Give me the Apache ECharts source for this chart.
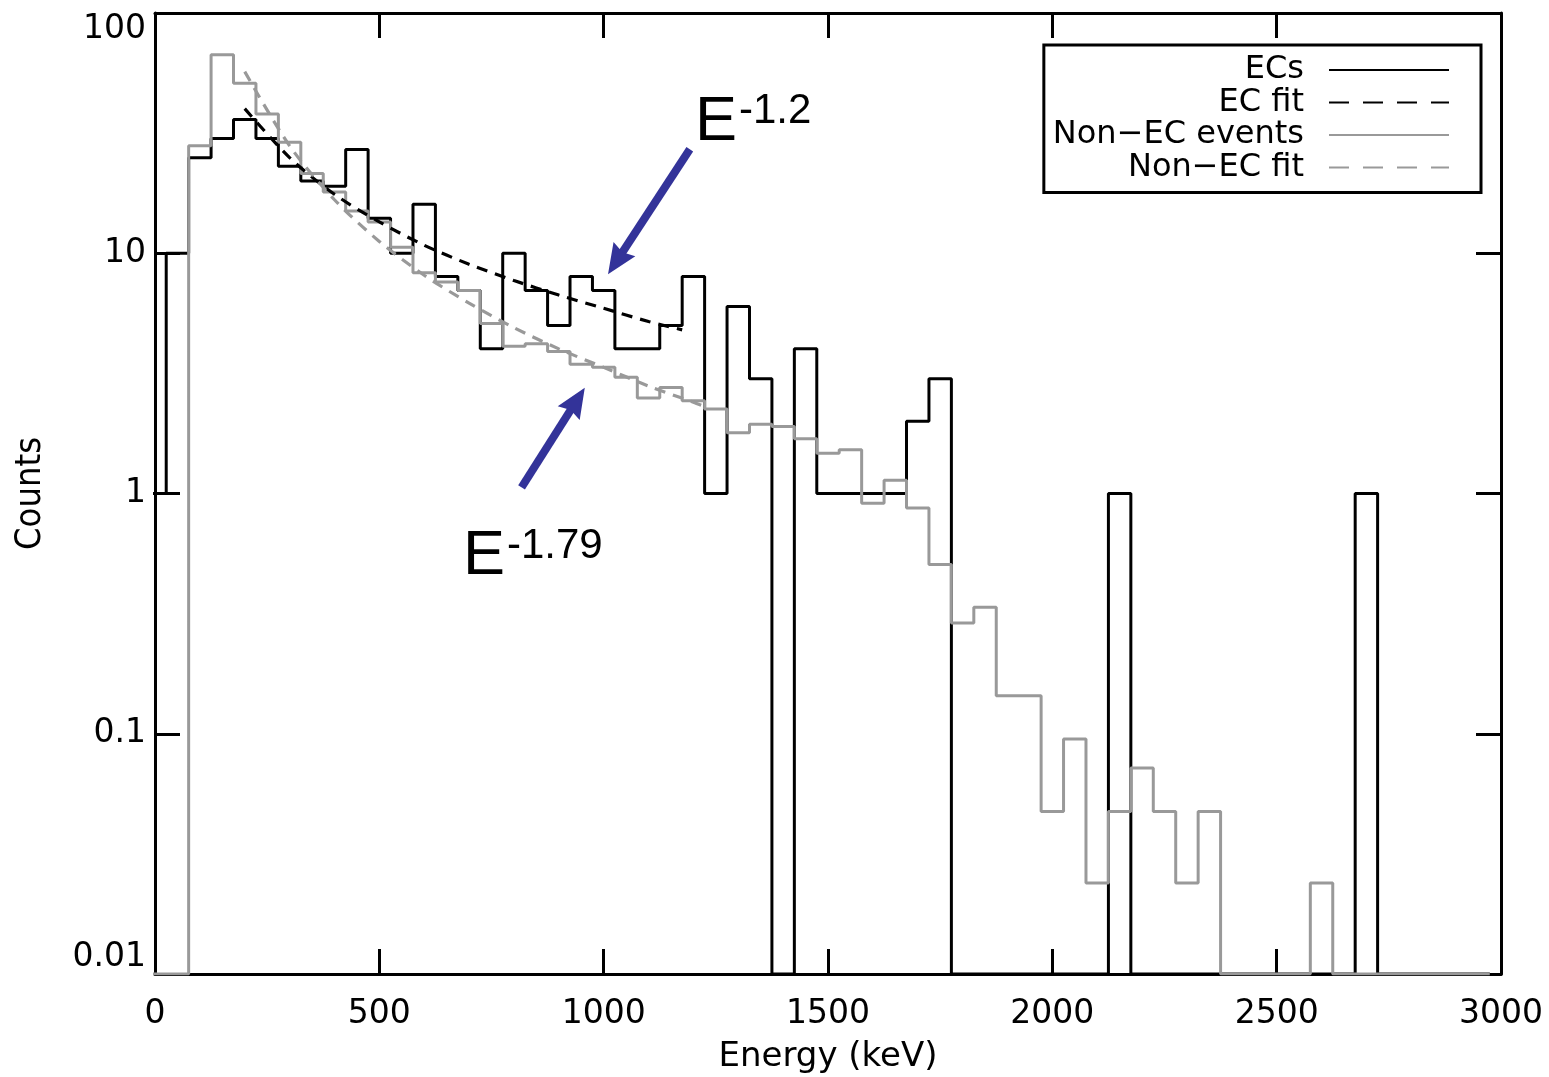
<!DOCTYPE html>
<html><head><meta charset="utf-8">
<script src="https://cdn.jsdelivr.net/npm/echarts@6/dist/echarts.min.js"></script>
<style>html,body{margin:0;padding:0;background:#fff;}#c{width:1549px;height:1077px;}</style>
</head><body><div id="c"></div>
<script>
// ---- data ----
const binWidth = 50; // keV
const binCenters = [0,50,100,150,200,250,300,350,400,450,500,550,600,650,700,750,800,850,900,950,
  1000,1050,1100,1150,1200,1250,1300,1350,1400,1450,1500,1550,1600,1650,1700,1750,1800,1850,1900,1950,
  2000,2050,2100,2150,2200,2250,2300,2350,2400,2450,2500,2550,2600,2650,2700,2750,2800,2850,2900,2950];
const ecCounts = [1,10,25,30,36,30,23,20,19,27,14,10,16,8,7,4,10,7,5,8,
  7,4,4,5,8,1,6,3,0,4,1,1,1,1,2,3,0,0,0,0,
  0,0,0,1,0,0,0,0,0,0,0,0,0,0,1,0,0,0,0,0];
const nonEcCounts = [0,0,28,67,51,38,29,21.5,18,15,13.5,10.6,8.3,7.6,7.0,5.1,4.1,4.2,3.9,3.45,
  3.35,3.05,2.5,2.76,2.43,2.25,1.79,1.94,1.9,1.69,1.47,1.52,0.91,1.135,0.87,0.506,0.289,0.336,0.144,0.144,
  0.0475,0.095,0.0239,0.0475,0.072,0.0475,0.0239,0.0475,0,0,0,0,0.0239,0,0,0,0,0,0,0];
const ecFitE = [200,300,400,500,600,700,800,900,1000,1100,1175];
const ecFitV = [40,25,17.6,13.5,10.8,9.0,7.7,6.7,5.9,5.2,4.8];
const nonEcFitE = [200,300,400,500,600,700,800,900,1000,1100,1200,1225];
const nonEcFitV = [57,28,16.7,11.2,8.1,6.2,4.9,4.0,3.35,2.8,2.4,2.3];
const xTicks = {min:0, max:3000, interval:500};
const yRange = {min:0.01, max:100};
const seriesNames = ['ECs','EC fit','Non\u2212EC events','Non\u2212EC fit'];
// annotation arrows (data coords: [energy, counts]); second point = arrow-head centre
const arrowEc = [[1192,27.1],[1028,9.22]];
const arrowNonEc = [[817,1.06],[940,2.44]];

function stepData(counts){
  const pts = [];
  const floor = yRange.min;
  for (let i=0;i<binCenters.length;i++) pts.push([binCenters[i]-binWidth/2, Math.max(counts[i], floor)]);
  const last = binCenters.length-1;
  pts.push([binCenters[last]+binWidth/2, Math.max(counts[last], floor)]);
  return pts;
}
function pairs(xs, ys){ return xs.map((x,i)=>[x, ys[i]]); }

const GRAY = '#999999';
const BLUE = '#333399';
const tickFont = {fontFamily:'DejaVu Sans', fontSize:33, color:'#000'};
const frameTick = {show:true, inside:true, length:25, lineStyle:{color:'#000', width:3}};
const frameLine = {show:true, onZero:false, lineStyle:{color:'#000', width:3}};
function yFmt(v){ return v >= 1 ? String(Math.round(v)) : String(+v.toPrecision(1)); }

const chart = echarts.init(document.getElementById('c'), null, {renderer:'canvas'});
chart.setOption({
  animation:false,
  backgroundColor:'#fff',
  grid:{left:155, right:48, top:13, bottom:103, containLabel:false, outerBoundsMode:'none'},
  xAxis:[{
    type:'value', min:xTicks.min, max:xTicks.max, interval:xTicks.interval,
    name:'Energy (keV)', nameLocation:'middle', nameGap:66,
    nameTextStyle:{fontFamily:'DejaVu Sans', fontSize:34, color:'#000'},
    axisLine:frameLine, axisTick:frameTick,
    axisLabel:Object.assign({margin:24, formatter:v=>String(v)}, tickFont),
    splitLine:{show:false}
  },{
    type:'value', position:'top', min:xTicks.min, max:xTicks.max, interval:xTicks.interval,
    axisLine:frameLine, axisTick:frameTick,
    axisLabel:{show:false}, splitLine:{show:false}
  }],
  yAxis:[{
    type:'log', logBase:10, min:yRange.min, max:yRange.max,
    name:'Counts', nameLocation:'middle', nameGap:106,
    nameTextStyle:{fontFamily:'Liberation Sans Narrow, DejaVu Sans Condensed, DejaVu Sans', fontSize:36, color:'#000'},
    axisLine:frameLine, axisTick:frameTick,
    minorTick:{show:false},
    axisLabel:Object.assign({margin:9, formatter:yFmt, verticalAlignMaxLabel:'top', verticalAlignMinLabel:'bottom'}, tickFont),
    splitLine:{show:false}
  },{
    type:'log', logBase:10, min:yRange.min, max:yRange.max, position:'right',
    axisLine:frameLine, axisTick:frameTick,
    axisLabel:{show:false}, splitLine:{show:false}
  }],
  legend:{
    show:true, right:68, top:45, left:'auto', bottom:'auto', orient:'vertical', align:'right',
    itemWidth:120, itemHeight:20, itemGap:0.5,
    padding:[9,31,9,9],
    borderColor:'#000', borderWidth:3, borderRadius:0, backgroundColor:'#fff',
    itemStyle:{opacity:0},
    textStyle:{fontFamily:'DejaVu Sans', fontSize:32, color:'#000', padding:[0,20,0,0]},
    data:[
      {name:seriesNames[0]},
      {name:seriesNames[1], lineStyle:{type:[20,14]}},
      {name:seriesNames[2]},
      {name:seriesNames[3], lineStyle:{type:[20,14]}}
    ]
  },
  series:[
    {name:seriesNames[0], type:'line', step:'end', data:stepData(ecCounts), symbol:'none', z:3,
     lineStyle:{color:'#000', width:3}, itemStyle:{color:'#000'}, clip:true,
     markLine:{silent:true, symbol:['none','path://M50,0 L100,100 L50,88 L0,100 Z'], symbolSize:[26,30], label:{show:false},
       lineStyle:{color:BLUE, width:8, type:'solid'}, itemStyle:{color:BLUE},
       data:[
         [{coord:arrowEc[0]},{coord:arrowEc[1]}],
         [{coord:arrowNonEc[0]},{coord:arrowNonEc[1]}]
       ]}},
    {name:seriesNames[1], type:'line', data:pairs(ecFitE, ecFitV), smooth:0.3, symbol:'none', z:5,
     lineStyle:{color:'#000', width:3.2, type:[11,8]}, itemStyle:{color:'#000'}},
    {name:seriesNames[2], type:'line', step:'end', data:stepData(nonEcCounts), symbol:'none', z:4,
     lineStyle:{color:GRAY, width:3}, itemStyle:{color:GRAY}, clip:true},
    {name:seriesNames[3], type:'line', data:pairs(nonEcFitE, nonEcFitV), smooth:0.3, symbol:'none', z:5,
     lineStyle:{color:GRAY, width:3.2, type:[11,8]}, itemStyle:{color:GRAY}}
  ],
  graphic:[
    {type:'text', x:695, y:123, z:10, style:{text:'E', fontFamily:'Liberation Sans', fontSize:63, fill:'#000', align:'left', verticalAlign:'middle'}},
    {type:'text', x:739, y:111, z:10, style:{text:'-1.2', fontFamily:'Liberation Sans', fontSize:42, fill:'#000', align:'left', verticalAlign:'middle'}},
    {type:'text', x:463, y:557, z:10, style:{text:'E', fontFamily:'Liberation Sans', fontSize:63, fill:'#000', align:'left', verticalAlign:'middle'}},
    {type:'text', x:507, y:546, z:10, style:{text:'-1.79', fontFamily:'Liberation Sans', fontSize:42, fill:'#000', align:'left', verticalAlign:'middle'}}
  ]
});
</script></body></html>
